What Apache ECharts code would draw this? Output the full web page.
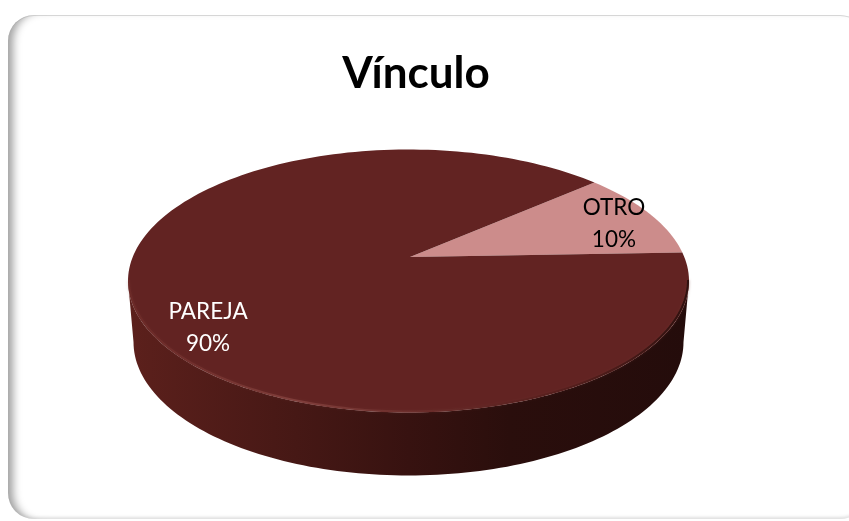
<!DOCTYPE html>
<html>
<head>
<meta charset="utf-8">
<title>Vínculo</title>
<script src="https://cdn.jsdelivr.net/npm/echarts@6/dist/echarts.min.js"></script>
<style>
  html, body { margin: 0; padding: 0; background: #fff; }
  #card {
    position: absolute; left: 8px; top: 15px; width: 858px; height: 504px;
    border-radius: 26px; box-sizing: border-box; background: #fff;
    box-shadow: inset 10px 0 8px -5px #a0a0a0, inset 0 1px 0 #dcdcdc, inset 0 -3px 3px -1px #e8e8e8;
  }
  #wrap { position: absolute; left: 0; top: 0; width: 849px; height: 521px; overflow: hidden; }
  #main { position: absolute; left: 0; top: 0; width: 849px; height: 521px; }
</style>
</head>
<body>
<div id="wrap">
  <div id="card"></div>
  <div id="main"></div>
</div>
<script>
var categories = ['OTRO', 'PAREJA'];
var values = [10, 90];
var sliceColors = ['#cc8c8b', '#622322'];

// pie geometry (office style tilted 3d pie)
var cx = 408.5, cy = 281, rx = 280.5, ry = 131.5;
var baseRx = 275, baseCy = 342, baseRy = 133.5;
var apexX = 410, apexY = 257;
var startAngle = 12.5;

var total = values.reduce(function (a, b) { return a + b; }, 0);

function rimPoint(deg, ex, ey, erx, ery) {
  var a = deg * Math.PI / 180;
  return [ex + erx * Math.cos(a), ey - ery * Math.sin(a)];
}

function arcPoints(from, to, ex, ey, erx, ery) {
  var pts = [];
  var n = Math.max(2, Math.ceil(Math.abs(to - from) / 1.5));
  for (var i = 0; i <= n; i++) {
    pts.push(rimPoint(from + (to - from) * i / n, ex, ey, erx, ery));
  }
  return pts;
}

function renderSlice(params, api) {
  var i = params.dataIndex;
  var from = startAngle;
  for (var k = 0; k < i; k++) from += values[k] / total * 360;
  var to = from + api.value(0) / total * 360;
  var children = [];

  // front wall, only the part of the slice that faces the viewer
  var wallFrom = Math.max(from, 180), wallTo = Math.min(to, 360);
  if (wallTo > wallFrom) {
    var wall = arcPoints(wallFrom, wallTo, cx, cy, rx, ry)
      .concat(arcPoints(wallTo, wallFrom, cx, baseCy, baseRx, baseRy));
    children.push({
      type: 'polygon',
      shape: { points: wall },
      style: {
        fill: new echarts.graphic.LinearGradient(128, 0, 689, 0, [
          { offset: 0, color: '#5c201c' },
          { offset: 0.3, color: '#461815' },
          { offset: 0.5, color: '#371210' },
          { offset: 0.68, color: '#2a0e0c' },
          { offset: 1, color: '#240c0b' }
        ], true)
      }
    });
  }

  // top face
  var top = [[apexX, apexY]].concat(arcPoints(from, to, cx, cy, rx, ry));
  children.push({
    type: 'polygon',
    shape: { points: top },
    style: { fill: api.visual('color') }
  });

  // soft bevel along the front rim
  if (wallTo > wallFrom) {
    children.push({
      type: 'polyline',
      shape: { points: arcPoints(wallFrom, wallTo, cx, cy - 1, rx - 1, ry) },
      style: {
        fill: 'none',
        lineWidth: 2,
        shadowBlur: 3,
        shadowColor: 'rgba(110,50,46,0.6)',
        stroke: new echarts.graphic.LinearGradient(128, 0, 689, 0, [
          { offset: 0, color: 'rgba(120,50,46,0.4)' },
          { offset: 0.3, color: 'rgba(140,72,68,0.7)' },
          { offset: 0.5, color: 'rgba(118,55,52,0.55)' },
          { offset: 0.75, color: 'rgba(70,25,22,0.4)' },
          { offset: 1, color: 'rgba(40,14,12,0.9)' }
        ], true)
      }
    });
  }

  // label on the slice, nudged the way office best-fit places it
  var mid = (from + to) / 2;
  var pos = rimPoint(mid, cx, cy, rx * 0.85, ry * 0.85);
  var nudge = i === 0 ? [0, -1] : [5, -10];
  var pct = Math.round(api.value(0) / total * 100) + '%';
  children.push({
    type: 'text',
    style: {
      text: categories[i] + '\n' + pct,
      x: pos[0] + nudge[0],
      y: pos[1] + nudge[1],
      align: 'center',
      verticalAlign: 'middle',
      fill: i === 0 ? '#000' : '#fff',
      font: '22.5px Lato',
      lineHeight: 32
    }
  });

  return { type: 'group', children: children };
}

var chart = echarts.init(document.getElementById('main'));
chart.setOption({
  animation: false,
  backgroundColor: 'transparent',
  title: {
    text: 'Vínculo',
    left: 411,
    top: 47,
    textAlign: 'center',
    textStyle: { fontFamily: 'Lato', fontWeight: 'bold', fontSize: 44, color: '#000' }
  },
  series: [{
    type: 'custom',
    coordinateSystem: 'none',
    renderItem: renderSlice,
    data: values.map(function (v, i) {
      return { name: categories[i], value: [v], itemStyle: { color: sliceColors[i] } };
    })
  }]
});
</script>
</body>
</html>
